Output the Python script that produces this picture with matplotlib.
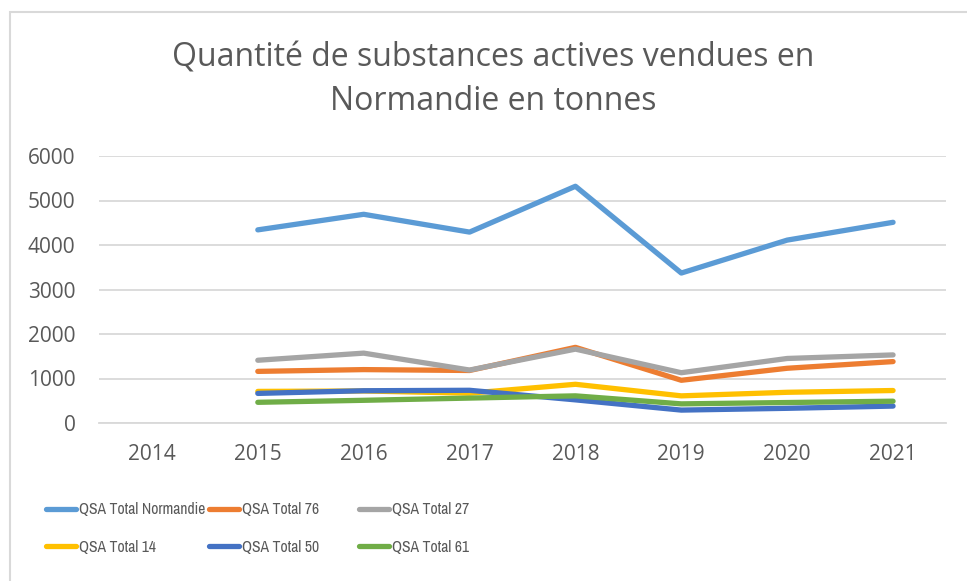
import numpy as np
import matplotlib
matplotlib.use("Agg")
import matplotlib.pyplot as plt
from matplotlib import font_manager as fm
from matplotlib.patches import Rectangle
from matplotlib.lines import Line2D

years = ["2014", "2015", "2016", "2017", "2018", "2019", "2020", "2021"]
nan = np.nan
qsa_normandie = [nan, 4340, 4690, 4290, 5320, 3370, 4110, 4510]
qsa_76 = [nan, 1160, 1200, 1180, 1700, 960, 1230, 1380]
qsa_27 = [nan, 1410, 1570, 1190, 1660, 1130, 1450, 1530]
qsa_14 = [nan, 710, 720, 670, 870, 610, 690, 730]
qsa_50 = [nan, 665, 725, 735, 520, 290, 330, 380]
qsa_61 = [nan, 465, 510, 560, 610, 430, 460, 490]

labels = ["QSA Total Normandie", "QSA Total 76", "QSA Total 27",
          "QSA Total 14", "QSA Total 50", "QSA Total 61"]
series = [qsa_normandie, qsa_76, qsa_27, qsa_14, qsa_50, qsa_61]
colors = ["#5B9BD5", "#ED7D31", "#A5A5A5", "#FFC000", "#4472C4", "#70AD47"]

txt = "#595959"
plt.rcParams['font.family'] = ['Open Sans', 'DejaVu Sans']

# find a narrow font for the legend if one is installed
entries = fm.fontManager.ttflist
narrow = None
for key in ('Narrow', 'Condensed'):
    for f in entries:
        if key in f.name and f.weight in (400, 'normal', 'regular') and f.style == 'normal':
            narrow = (f.name, f.stretch)
            break
    if narrow:
        break
if narrow is None:
    for f in entries:
        if str(f.stretch) in ('condensed', 'semi-condensed', 'extra-condensed') and f.style == 'normal':
            narrow = (f.name, f.stretch)
            break
if narrow is None:
    narrow = ('Roboto', 'normal')

fig = plt.figure(figsize=(9.67, 5.81), dpi=100)
ax = fig.add_axes([99/967, 1-423/581, (946-99)/967, (423-156)/581])

x = np.arange(len(years))
for s, c, l in zip(series, colors, labels):
    ax.plot(x, s, color=c, lw=3.8, label=l, solid_capstyle='round',
            solid_joinstyle='round')

ax.set_xlim(-0.5, len(years) - 0.5)
ax.set_ylim(0, 6000)
ax.set_yticks(np.arange(0, 6001, 1000))
ax.set_xticks(x)
ax.set_xticklabels(years)
ax.grid(axis='y', color='#D9D9D9', lw=1.3)
ax.set_axisbelow(True)
for sp in ['top', 'right', 'left']:
    ax.spines[sp].set_visible(False)
ax.spines['bottom'].set_color('#D9D9D9')
ax.spines['bottom'].set_linewidth(1.3)
ax.tick_params(axis='both', length=0, labelsize=15, labelcolor=txt)
ax.tick_params(axis='y', pad=17)
ax.tick_params(axis='x', pad=15)

fig.text(493/967, 1-58/581, "Quantité de substances actives vendues en",
         ha='center', va='center', fontsize=23, color=txt)
fig.text(493/967, 1-101/581, "Normandie en tonnes",
         ha='center', va='center', fontsize=23, color=txt)

# legend font size: fit the longest label, then allow slightly larger text
renderer = fig.canvas.get_renderer()

def text_width(sz):
    t = fig.text(0, 0, labels[0], family=narrow[0], stretch=narrow[1], fontsize=sz)
    w = t.get_window_extent(renderer).width
    t.remove()
    return w

size = 13.0
while size > 7 and text_width(size) > 114:
    size -= 0.25
size += 1.25
w0 = text_width(size)

px_per_pt = 100 / 72
handle_px = 30
pad_px = 3
col1 = 46
col2 = max(194, col1 + handle_px + pad_px + w0 + 4)
col3 = col2 + 150
col_x = [col1, col2, col3]
order = [(0, 3), (1, 4), (2, 5)]
legfont = fm.FontProperties(family=narrow[0], stretch=narrow[1], size=size)
for cx, (a, b) in zip(col_x, order):
    hs = [Line2D([], [], color=colors[i], lw=3.8, solid_capstyle='round') for i in (a, b)]
    leg = fig.legend(hs, [labels[a], labels[b]], loc='center left',
                     bbox_to_anchor=(cx/967, 1-528.5/581), frameon=False,
                     prop=legfont, handlelength=handle_px/(size*px_per_pt),
                     handletextpad=pad_px/(size*px_per_pt),
                     labelspacing=(41/(size*px_per_pt)) - 1.2,
                     borderpad=0, borderaxespad=0)
    for t in leg.get_texts():
        t.set_color(txt)

fig.patches.append(Rectangle((10/967, -0.1), 2, 1.1 - 12/581,
                             transform=fig.transFigure, fill=False,
                             edgecolor='#D9D9D9', lw=1.5))

fig.savefig("out.png", dpi=100)
